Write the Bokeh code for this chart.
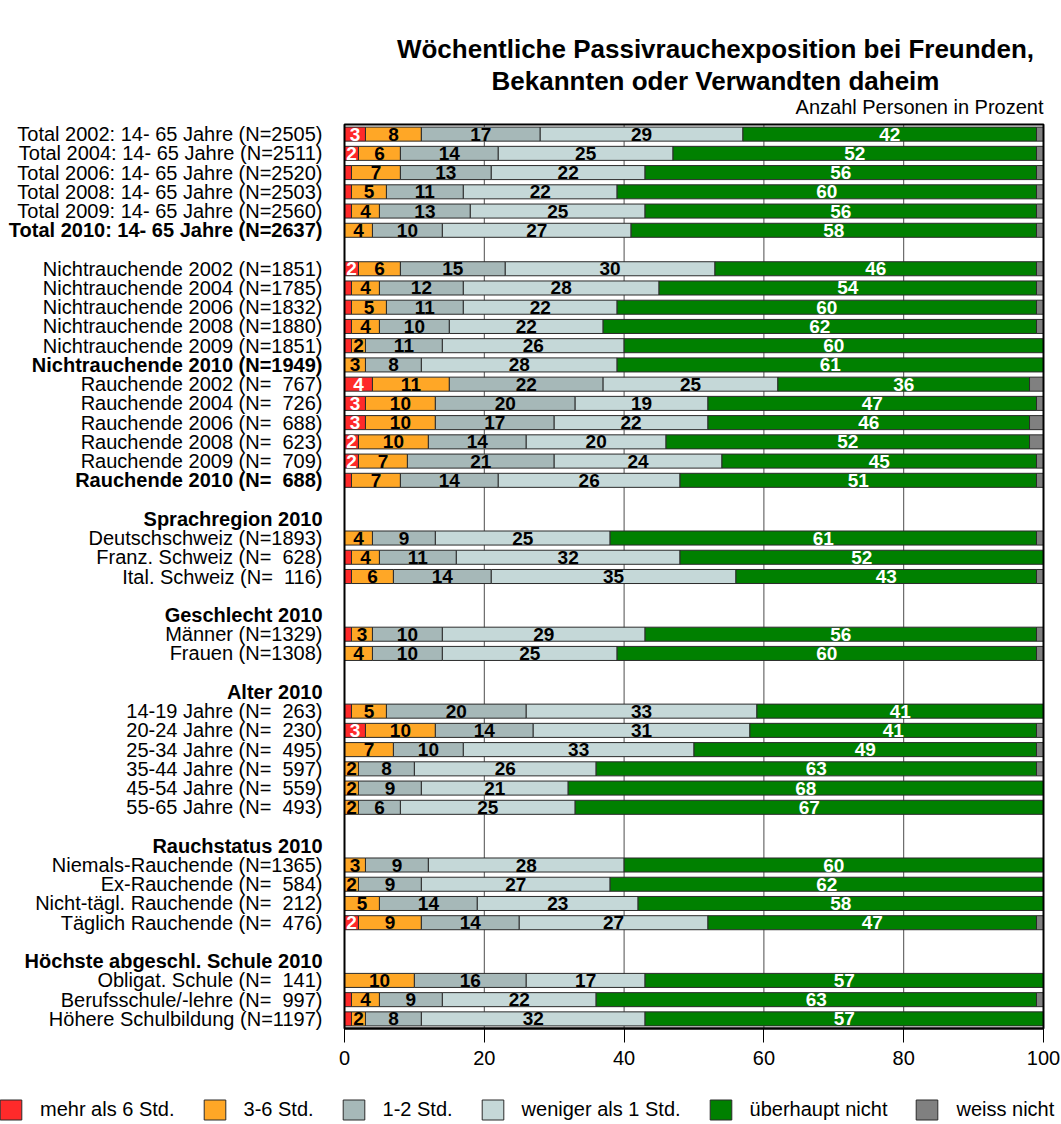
from bokeh.plotting import figure
from bokeh.models import (ColumnDataSource, Range1d, FixedTicker, LinearAxis,
                          Legend, LegendItem)
from bokeh.core.properties import value
from bokeh.embed import file_html
from bokeh.resources import INLINE

# ---------------- data ----------------
NB = "\u00a0\u00a0"
row_labels = [
    "Total 2002: 14- 65 Jahre (N=2505)",
    "Total 2004: 14- 65 Jahre (N=2511)",
    "Total 2006: 14- 65 Jahre (N=2520)",
    "Total 2008: 14- 65 Jahre (N=2503)",
    "Total 2009: 14- 65 Jahre (N=2560)",
    "Total 2010: 14- 65 Jahre (N=2637)",
    "",
    "Nichtrauchende 2002 (N=1851)",
    "Nichtrauchende 2004 (N=1785)",
    "Nichtrauchende 2006 (N=1832)",
    "Nichtrauchende 2008 (N=1880)",
    "Nichtrauchende 2009 (N=1851)",
    "Nichtrauchende 2010 (N=1949)",
    "Rauchende 2002 (N=" + NB + "767)",
    "Rauchende 2004 (N=" + NB + "726)",
    "Rauchende 2006 (N=" + NB + "688)",
    "Rauchende 2008 (N=" + NB + "623)",
    "Rauchende 2009 (N=" + NB + "709)",
    "Rauchende 2010 (N=" + NB + "688)",
    "",
    "Sprachregion 2010",
    "Deutschschweiz (N=1893)",
    "Franz. Schweiz (N=" + NB + "628)",
    "Ital. Schweiz (N=" + NB + "116)",
    "",
    "Geschlecht 2010",
    "Männer (N=1329)",
    "Frauen (N=1308)",
    "",
    "Alter 2010",
    "14-19 Jahre (N=" + NB + "263)",
    "20-24 Jahre (N=" + NB + "230)",
    "25-34 Jahre (N=" + NB + "495)",
    "35-44 Jahre (N=" + NB + "597)",
    "45-54 Jahre (N=" + NB + "559)",
    "55-65 Jahre (N=" + NB + "493)",
    "",
    "Rauchstatus 2010",
    "Niemals-Rauchende (N=1365)",
    "Ex-Rauchende (N=" + NB + "584)",
    "Nicht-tägl. Rauchende (N=" + NB + "212)",
    "Täglich Rauchende (N=" + NB + "476)",
    "",
    "Höchste abgeschl. Schule 2010",
    "Obligat. Schule (N=" + NB + "141)",
    "Berufsschule/-lehre (N=" + NB + "997)",
    "Höhere Schulbildung (N=1197)",
]
header_rows = ["Sprachregion 2010", "Geschlecht 2010", "Alter 2010",
               "Rauchstatus 2010", "Höchste abgeschl. Schule 2010"]
bold_rows = header_rows + [
    "Total 2010: 14- 65 Jahre (N=2637)",
    "Nichtrauchende 2010 (N=1949)",
    "Rauchende 2010 (N=" + NB + "688)",
]

series_names = ["mehr als 6 Std.", "3-6 Std.", "1-2 Std.",
                "weniger als 1 Std.", "überhaupt nicht", "weiss nicht"]

# values for the bar rows (in order of row_labels, skipping blanks/headers)
mehr_als_6 = [3, 2, 1, 1, 1, 0,
              2, 1, 1, 1, 1, 0,
              4, 3, 3, 2, 2, 1,
              0, 1, 1,
              1, 0,
              1, 3, 0, 0, 0, 0,
              0, 0, 0, 2,
              0, 1, 1]
std_3_6 = [8, 6, 7, 5, 4, 4,
           6, 4, 5, 4, 2, 3,
           11, 10, 10, 10, 7, 7,
           4, 4, 6,
           3, 4,
           5, 10, 7, 2, 2, 2,
           3, 2, 5, 9,
           10, 4, 2]
std_1_2 = [17, 14, 13, 11, 13, 10,
           15, 12, 11, 10, 11, 8,
           22, 20, 17, 14, 21, 14,
           9, 11, 14,
           10, 10,
           20, 14, 10, 8, 9, 6,
           9, 9, 14, 14,
           16, 9, 8]
weniger_1 = [29, 25, 22, 22, 25, 27,
             30, 28, 22, 22, 26, 28,
             25, 19, 22, 20, 24, 26,
             25, 32, 35,
             29, 25,
             33, 31, 33, 26, 21, 25,
             28, 27, 23, 27,
             17, 22, 32]
ueberhaupt_nicht = [42, 52, 56, 60, 56, 58,
                    46, 54, 60, 62, 60, 61,
                    36, 47, 46, 52, 45, 51,
                    61, 52, 43,
                    56, 60,
                    41, 41, 49, 63, 68, 67,
                    60, 62, 58, 47,
                    57, 63, 57]
weiss_nicht = [1, 1, 1, 1, 1, 1,
               1, 1, 1, 1, 0, 0,
               2, 1, 2, 2, 1, 1,
               1, 0, 1,
               1, 1,
               0, 1, 1, 1, 0, 0,
               0, 0, 0, 1,
               0, 1, 0]

x_ticks = [0, 20, 40, 60, 80, 100]

title_lines = ["Wöchentliche Passivrauchexposition bei Freunden,",
               "Bekannten oder Verwandten daheim"]
subtitle = "Anzahl Personen in Prozent"

colors = ["#ff2a2a", "#ffa726", "#a6b8b8", "#c5d8d8", "#008000", "#808080"]
label_colors = ["white", "black", "black", "black", "white", None]

# ---------------- layout (pixels) ----------------
W, H = 1061, 1124
PL, PR, PT, PB = 344, 1043, 124, 1028      # plot box in page pixels
n_rows = len(row_labels)
sx = (PR - PL) / 100.0
sy = (PB - PT) / n_rows
x_lo = -PL / sx
x_hi = 100 + (W - PR) / sx
y_top = -PT / sy
y_bot = n_rows + (H - PB) / sy

def py(pix):
    return (pix - PT) / sy

def px(pix):
    return (pix - PL) / sx

p = figure(width=W, height=H, output_backend="svg", toolbar_location=None,
           x_range=Range1d(x_lo, x_hi), y_range=Range1d(y_bot, y_top),
           x_axis_location=None, y_axis_location=None)
p.min_border = 0
p.min_border_left = 0
p.min_border_right = 0
p.min_border_top = 0
p.min_border_bottom = 0
p.outline_line_color = None
p.background_fill_color = "white"
p.border_fill_color = "white"
p.grid.visible = False

# grid lines behind the bars
gsrc = ColumnDataSource(dict(x=x_ticks, y0=[0] * len(x_ticks), y1=[n_rows] * len(x_ticks)))
p.segment(x0="x", x1="x", y0="y0", y1="y1", source=gsrc,
          line_color="#4d4d4d", line_width=1)

bar_rows = [i for i, l in enumerate(row_labels) if l and l not in header_rows]
series = [mehr_als_6, std_3_6, std_1_2, weniger_1, ueberhaupt_nicht, weiss_nicht]

renderers = []
lab_x, lab_y, lab_t, lab_c = [], [], [], []
cum = [0.0] * len(bar_rows)
for s_idx, vals in enumerate(series):
    left, right, ys = [], [], []
    for k, v in enumerate(vals):
        l0 = cum[k]
        r0 = cum[k] + v
        cum[k] = r0
        if v > 0:
            left.append(l0)
            right.append(r0)
            ys.append(bar_rows[k] + 0.5)
        if v >= 2 and label_colors[s_idx] is not None:
            lab_x.append((l0 + r0) / 2)
            lab_y.append(bar_rows[k] + 0.5)
            lab_t.append(str(v))
            lab_c.append(label_colors[s_idx])
    src = ColumnDataSource(dict(left=left, right=right, y=ys))
    r = p.hbar(y="y", left="left", right="right", height=0.73, source=src,
               fill_color=colors[s_idx], line_color="#2b2b2b", line_width=1)
    renderers.append(r)

tsrc = ColumnDataSource(dict(x=lab_x, y=lab_y, t=lab_t, c=lab_c))
p.text(x="x", y="y", text="t", source=tsrc, text_color="c",
       text_align="center", text_baseline="middle",
       text_font=value("Liberation Sans"), text_font_style="bold",
       text_font_size="19px")

# plot box
p.quad(left=[0], right=[100], top=[0], bottom=[n_rows], fill_color=None,
       line_color="black", line_width=2)

# row labels
for style in ("normal", "bold"):
    rows_ = [(i + 0.5, l) for i, l in enumerate(row_labels)
             if l and ((l in bold_rows) == (style == "bold"))]
    src = ColumnDataSource(dict(x=[0] * len(rows_), y=[r[0] for r in rows_],
                                t=[r[1] for r in rows_]))
    p.text(x="x", y="y", text="t", source=src, x_offset=-22,
           text_align="right", text_baseline="middle",
           text_font=value("Liberation Sans"), text_font_style=style,
           text_font_size="20px", text_color="black")

# titles
tt = ColumnDataSource(dict(x=[px(715)] * 2, y=[py(48), py(80)], t=title_lines))
p.text(x="x", y="y", text="t", source=tt, text_align="center", text_baseline="middle",
       text_font=value("Liberation Sans"), text_font_style="bold",
       text_font_size="26px", text_color="black")
p.text(x=[100], y=[py(106)], text=[subtitle], text_align="right", text_baseline="middle",
       text_font=value("Liberation Sans"), text_font_size="20px", text_color="black")

# x axis at the bottom of the plot box
ax = LinearAxis(fixed_location=n_rows, bounds=(0, 100),
                ticker=FixedTicker(ticks=x_ticks))
ax.axis_line_color = "black"
ax.axis_line_width = 2
ax.major_tick_line_color = "black"
ax.major_tick_line_width = 1
ax.major_tick_out = 14
ax.major_tick_in = 0
ax.minor_tick_line_color = None
ax.major_label_standoff = 8
ax.major_label_text_font = "Liberation Sans"
ax.major_label_text_font_size = "20px"
ax.major_label_text_color = "black"
p.add_layout(ax, "below")

legend = Legend(items=[LegendItem(label=n, renderers=[r]) for n, r in zip(series_names, renderers)],
                orientation="horizontal", location=(-3, 2),
                glyph_width=27, glyph_height=25, label_standoff=16, spacing=26,
                padding=0, margin=0, border_line_color=None,
                background_fill_alpha=0, label_height=25,
                label_text_font="Liberation Sans", label_text_font_size="20px",
                label_text_color="black")
p.add_layout(legend)

open("out.html", "w").write(file_html(p, INLINE))
